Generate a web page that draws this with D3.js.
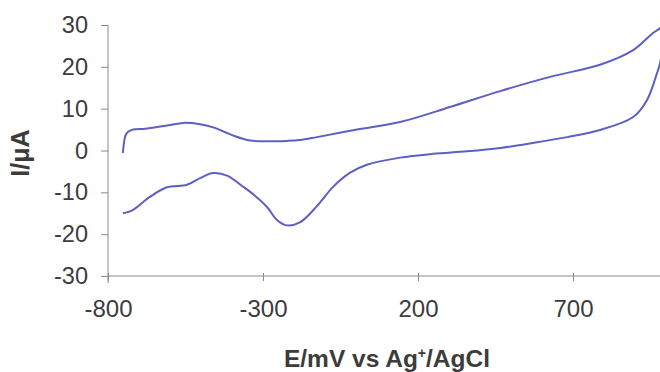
<!DOCTYPE html>
<html>
<head>
<meta charset="utf-8">
<script src="https://cdn.jsdelivr.net/npm/d3@7"></script>
<style>
  html, body { margin: 0; padding: 0; background: #ffffff; }
  svg { display: block; }
</style>
</head>
<body>
<svg id="chart" width="660" height="372"></svg>
<script>
// ---- data (E in mV vs Ag+/AgCl, I in µA) ----
const xTicks = [-800, -300, 200, 700];
const yTicks = [-30, -20, -10, 0, 10, 20, 30];

// anodic (forward) sweep – upper branch
const forwardE = [-752, -749, -744, -736, -719, -680, -642, -600, -558, -503, -455, -420, -390, -365, -342, -300, -223, -181, -126, -19, 142, 303, 465, 626, 787, 894, 958, 981, 1000];
const forwardI = [-0.6, 1.5, 3.5, 4.4, 5.0, 5.2, 5.6, 6.1, 6.6, 6.3, 5.4, 4.3, 3.4, 2.8, 2.4, 2.2, 2.3, 2.5, 3.2, 4.7, 6.8, 10.4, 14.2, 17.6, 20.5, 24.0, 28.1, 29.3, 32.0];

// cathodic (reverse) sweep – lower branch
const reverseE = [1000, 981, 971, 939, 894, 787, 681, 571, 465, 358, 248, 142, 35, -19, -74, -126, -181, -223, -255, -287, -326, -365, -416, -461, -503, -545, -610, -665, -719, -740, -752];
const reverseI = [32.0, 20.9, 18.5, 12.1, 8.0, 4.9, 3.2, 1.8, 0.6, -0.2, -0.8, -1.7, -3.4, -5.3, -8.7, -13.3, -17.2, -17.9, -16.6, -13.5, -10.8, -8.6, -6.0, -5.4, -6.6, -8.2, -8.8, -11.1, -14.2, -14.8, -15.0];

// ---- layout ----
const svg = d3.select("#chart");
const x = d3.scaleLinear().domain([-800, 1000]).range([108, 666]);
const y = d3.scaleLinear().domain([-30, 30]).range([276, 25]);

const axisColor = "#8a8a8a";
const textColor = "#3c3c3c";
const font = "'Liberation Sans', Arial, sans-serif";
const fmt = d => String(d);

// y axis
const yAxis = svg.append("g").attr("transform", `translate(${x(-800)},0)`)
  .call(d3.axisLeft(y).tickValues(yTicks).tickSize(7).tickPadding(13).tickFormat(fmt));
yAxis.select(".domain").remove();
yAxis.selectAll(".tick line").attr("stroke", axisColor);
yAxis.selectAll(".tick text").attr("fill", textColor).attr("font-family", font).attr("font-size", 23.5);

svg.append("line")
  .attr("x1", x(-800)).attr("x2", x(-800))
  .attr("y1", y(30)).attr("y2", y(-30) + 7)
  .attr("stroke", axisColor).attr("stroke-width", 1);

// x axis
const xAxis = svg.append("g").attr("transform", `translate(0,${y(-30)})`)
  .call(d3.axisBottom(x).tickValues(xTicks).tickSize(5).tickPadding(19).tickFormat(fmt));
xAxis.select(".domain").remove();
xAxis.selectAll(".tick line").attr("stroke", axisColor).attr("y1", -3);
xAxis.selectAll(".tick text").attr("fill", textColor).attr("font-family", font).attr("font-size", 24);

svg.append("line")
  .attr("x1", x(-800)).attr("x2", 660)
  .attr("y1", y(-30)).attr("y2", y(-30))
  .attr("stroke", axisColor).attr("stroke-width", 1);

// curves
const line = d3.line()
  .x(d => x(d[0])).y(d => y(d[1]))
  .curve(d3.curveCatmullRom.alpha(0.5));

const forward = forwardE.map((e, i) => [e, forwardI[i]]);
const reverse = reverseE.map((e, i) => [e, reverseI[i]]);

[forward, reverse].forEach(s => {
  svg.append("path").datum(s)
    .attr("d", line)
    .attr("fill", "none")
    .attr("stroke", "#5d60c2")
    .attr("stroke-width", 2)
    .attr("stroke-linejoin", "round");
});

// axis titles
svg.append("text")
  .attr("transform", "translate(29,153) rotate(-90)")
  .attr("text-anchor", "middle")
  .attr("font-family", font).attr("font-weight", "bold").attr("font-size", 25)
  .attr("fill", textColor)
  .text("I/μA");

const title = svg.append("text")
  .attr("x", 387).attr("y", 367)
  .attr("text-anchor", "middle")
  .attr("font-family", font).attr("font-weight", "bold").attr("font-size", 24.5)
  .attr("fill", textColor);
title.append("tspan").text("E/mV vs Ag");
title.append("tspan").attr("font-size", 14).attr("dy", -9).text("+");
title.append("tspan").attr("dy", 9).text("/AgCl");
</script>
</body>
</html>
